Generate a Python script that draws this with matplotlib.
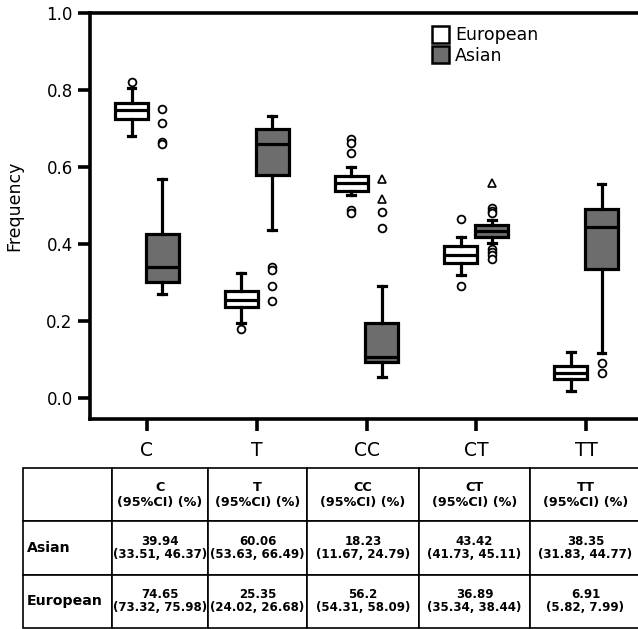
import numpy as np
import matplotlib.pyplot as plt
from matplotlib.patches import Patch

plt.rcParams["font.family"] = ["DejaVu Sans"]

categories = ["C", "T", "CC", "CT", "TT"]

# box stats: (whislo, q1, med, q3, whishi)
euro_stats = [
    (0.680, 0.725, 0.748, 0.766, 0.805),
    (0.195, 0.236, 0.255, 0.278, 0.324),
    (0.527, 0.538, 0.558, 0.577, 0.600),
    (0.320, 0.350, 0.371, 0.395, 0.418),
    (0.018, 0.049, 0.065, 0.083, 0.120),
]
asian_stats = [
    (0.270, 0.301, 0.340, 0.426, 0.568),
    (0.436, 0.579, 0.660, 0.700, 0.733),
    (0.055, 0.094, 0.107, 0.196, 0.290),
    (0.403, 0.418, 0.434, 0.449, 0.462),
    (0.117, 0.335, 0.444, 0.490, 0.555),
]
euro_out = [[0.822], [0.180], [0.672, 0.663, 0.637, 0.488, 0.480], [0.465, 0.290], []]
asian_out = [
    [0.751, 0.714, 0.665, 0.660],
    [0.340, 0.333, 0.290, 0.252],
    [0.484, 0.442],
    [0.493, 0.487, 0.480, 0.388, 0.379, 0.371, 0.362],
    [0.090, 0.065],
]
# extreme values (triangles)
euro_ext = [[], [], [], [], []]
asian_ext = [[], [], [0.569, 0.516], [0.558], []]

# table
col_heads = ["C\n(95%CI) (%)", "T\n(95%CI) (%)", "CC\n(95%CI) (%)",
             "CT\n(95%CI) (%)", "TT\n(95%CI) (%)"]
row_labels = ["Asian", "European"]
asian_row = ["39.94\n(33.51, 46.37)", "60.06\n(53.63, 66.49)", "18.23\n(11.67, 24.79)",
             "43.42\n(41.73, 45.11)", "38.35\n(31.83, 44.77)"]
euro_row = ["74.65\n(73.32, 75.98)", "25.35\n(24.02, 26.68)", "56.2\n(54.31, 58.09)",
            "36.89\n(35.34, 38.44)", "6.91\n(5.82, 7.99)"]

GRAY = "#6d6d6d"
LW = 2.3


def make_stats(stats, outs):
    res = []
    for (lo, q1, med, q3, hi), fl in zip(stats, outs):
        res.append(dict(whislo=lo, q1=q1, med=med, q3=q3, whishi=hi, fliers=fl))
    return res


fig = plt.figure(figsize=(6.38, 6.29), dpi=100)
ax = fig.add_axes([90 / 638, 1 - 419 / 629, 560 / 638, 406 / 629])

pos = np.arange(len(categories))
off = 0.14
w = 0.30
flierprops = dict(marker="o", markerfacecolor="white", markeredgecolor="black",
                  markersize=5.6, markeredgewidth=1.3, linestyle="none")

for stats, outs, ext, shift, fc in [
    (euro_stats, euro_out, euro_ext, -off, "white"),
    (asian_stats, asian_out, asian_ext, off, GRAY),
]:
    ax.bxp(make_stats(stats, outs), positions=pos + shift, widths=w,
           capwidths=0.07, patch_artist=True, showfliers=True,
           boxprops=dict(facecolor=fc, edgecolor="black", linewidth=LW),
           medianprops=dict(color="black", linewidth=LW),
           whiskerprops=dict(color="black", linewidth=LW),
           capprops=dict(color="black", linewidth=LW),
           flierprops=flierprops, manage_ticks=False)
    for p, e in zip(pos + shift, ext):
        if e:
            ax.plot([p] * len(e), e, linestyle="none", marker="^", markersize=5.2,
                    markerfacecolor="white", markeredgecolor="black",
                    markeredgewidth=1.2)

ax.set_xlim(-0.518, 4.518 + 7 / 110)
ax.set_ylim(-0.0545, 1.0)
ax.set_xticks(pos)
ax.set_xticklabels(categories, fontsize=13.5)
ax.set_yticks([0.0, 0.2, 0.4, 0.6, 0.8, 1.0])
ax.set_yticklabels(["0.0", "0.2", "0.4", "0.6", "0.8", "1.0"], fontsize=12)
ax.set_ylabel("Frequency", fontsize=12.5)
ax.yaxis.set_label_coords(-0.12, 0.525)
for s in ax.spines.values():
    s.set_linewidth(2.6)
ax.tick_params(direction="out", length=8.5, width=2.6)
ax.tick_params(axis="y", pad=4)
ax.tick_params(axis="x", pad=7)

handles = [Patch(facecolor="white", edgecolor="black", linewidth=1.8, label="European"),
           Patch(facecolor=GRAY, edgecolor="black", linewidth=1.8, label="Asian")]
ax.legend(handles=handles, loc="upper left", bbox_to_anchor=(0.598, 0.985),
          frameon=False, fontsize=12.5, handlelength=1.0, handleheight=1.1,
          handletextpad=0.35, labelspacing=0.12, borderaxespad=0)

# table
tax = fig.add_axes([23 / 638, 1 - 628 / 629, 618 / 638, 160 / 629])
tax.axis("off")
cell_text = [[""] + col_heads, [row_labels[0]] + asian_row, [row_labels[1]] + euro_row]
col_w = [89, 96, 99, 112, 111, 111]
tbl = tax.table(cellText=cell_text, colWidths=[c / sum(col_w) for c in col_w],
                cellLoc="center", bbox=[0, 0, 1, 1])
tbl.auto_set_font_size(False)
for (r, c), cell in tbl.get_celld().items():
    cell.set_linewidth(1.2)
    t = cell.get_text()
    t.set_fontweight("bold")
    if c == 0:
        t.set_fontsize(10.2)
        t.set_horizontalalignment("left")
        cell.PAD = 0.04
    elif r == 0:
        t.set_fontsize(9.2)
        t.set_linespacing(1.2)
    else:
        t.set_fontsize(8.5)
        t.set_linespacing(1.0)

fig.savefig("out.png", dpi=100)
